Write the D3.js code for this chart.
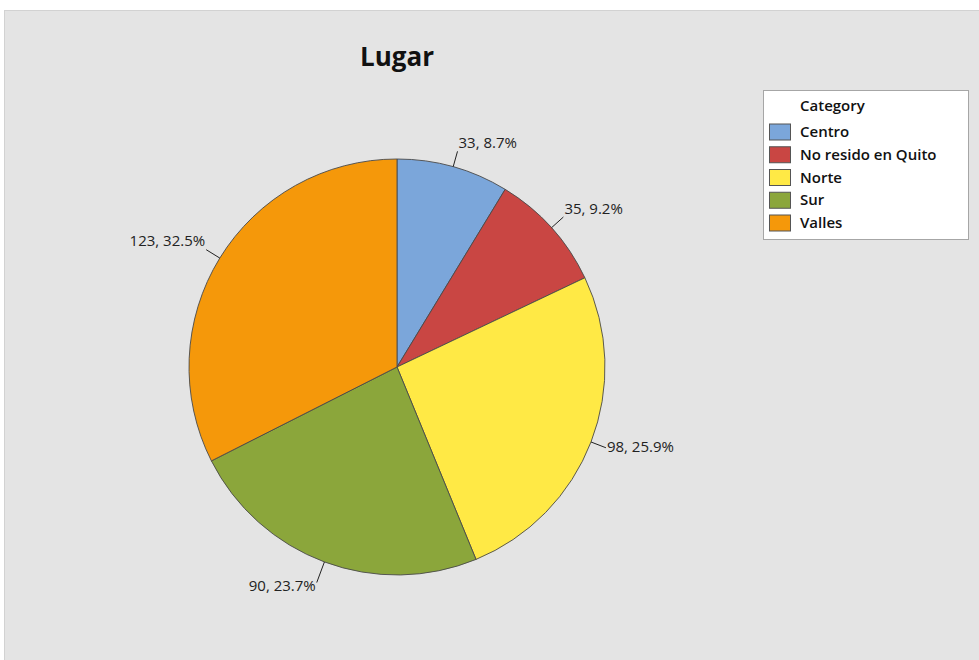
<!DOCTYPE html>
<html><head><meta charset="utf-8">
<script src="https://cdn.jsdelivr.net/npm/d3@7/dist/d3.min.js"></script>
<style>html,body{margin:0;padding:0;background:#fff;}svg{display:block;}</style>
</head><body>
<script>
const categories = ["Centro", "No resido en Quito", "Norte", "Sur", "Valles"];
const counts = [33, 35, 98, 90, 123];
const percents = ["8.7%", "9.2%", "25.9%", "23.7%", "32.5%"];
const colors = ["#7BA6DA", "#C94643", "#FFE945", "#8BA63B", "#F5980A"];
const title = "Lugar";
const legendTitle = "Category";

const W = 979, H = 660;
const svg = d3.select("body").append("svg").attr("width", W).attr("height", H);
svg.append("rect").attr("x", 4.5).attr("y", 10.5).attr("width", W).attr("height", H)
  .attr("fill", "#E4E4E4").attr("stroke", "#D2D2D2");

const cx = 397, cy = 367, R = 208;
svg.append("text").attr("x", cx).attr("y", 66).attr("text-anchor", "middle")
  .attr("font-family", "Open Sans, sans-serif").attr("font-weight", "bold").attr("font-size", 26)
  .attr("fill", "#111").text(title);

const data = categories.map((c, i) => ({cat: c, v: counts[i], p: percents[i], col: colors[i]}));
const pie = d3.pie().value(d => d.v).sort(null);
const arcs = pie(data);
const arc = d3.arc().innerRadius(0).outerRadius(R);
const g = svg.append("g").attr("transform", `translate(${cx},${cy})`);
g.selectAll("path.slice").data(arcs).join("path").attr("class", "slice")
  .attr("d", arc).attr("fill", d => d.data.col).attr("stroke", "#4a4a4a").attr("stroke-width", 0.9);

arcs.forEach(a => {
  const m = (a.startAngle + a.endAngle) / 2;
  const s = Math.sin(m), c = Math.cos(m);
  const L = c < -0.8 ? 22 : 16;
  const x0 = R * s, y0 = -R * c, x1 = (R + L) * s, y1 = -(R + L) * c;
  g.append("line").attr("x1", x0).attr("y1", y0).attr("x2", x1).attr("y2", y1)
    .attr("stroke", "#222").attr("stroke-width", 1);
  let dy = 0;
  if (c > 0.3) dy = -7.5; else if (c < -0.5) dy = 4;
  g.append("text").attr("x", x1 + (s >= 0 ? 1 : -1)).attr("y", y1 + dy)
    .attr("dominant-baseline", "middle")
    .attr("text-anchor", s >= 0 ? "start" : "end")
    .attr("font-family", "Open Sans, sans-serif").attr("font-size", 15).attr("fill", "#222")
    .text(`${a.data.v}, ${a.data.p}`);
});

// legend
const lg = svg.append("g");
lg.append("rect").attr("x", 763.5).attr("y", 90.5).attr("width", 205).attr("height", 149)
  .attr("fill", "#fff").attr("stroke", "#A6A6A6");
lg.append("text").attr("x", 800).attr("y", 107).attr("dominant-baseline", "middle")
  .attr("font-family", "Open Sans, sans-serif").attr("font-weight", 600).attr("font-size", 15)
  .attr("fill", "#111").text(legendTitle);
const ly = d3.scalePoint().domain(categories).range([132, 223]);
categories.forEach((c, i) => {
  lg.append("rect").attr("x", 769.5).attr("y", ly(c) - 8).attr("width", 21).attr("height", 16)
    .attr("fill", colors[i]).attr("stroke", "#555");
  lg.append("text").attr("x", 800).attr("y", ly(c) + 1).attr("dominant-baseline", "middle")
    .attr("font-family", "Open Sans, sans-serif").attr("font-weight", 600).attr("font-size", 15)
    .attr("fill", "#111").text(c);
});
</script>
</body></html>
